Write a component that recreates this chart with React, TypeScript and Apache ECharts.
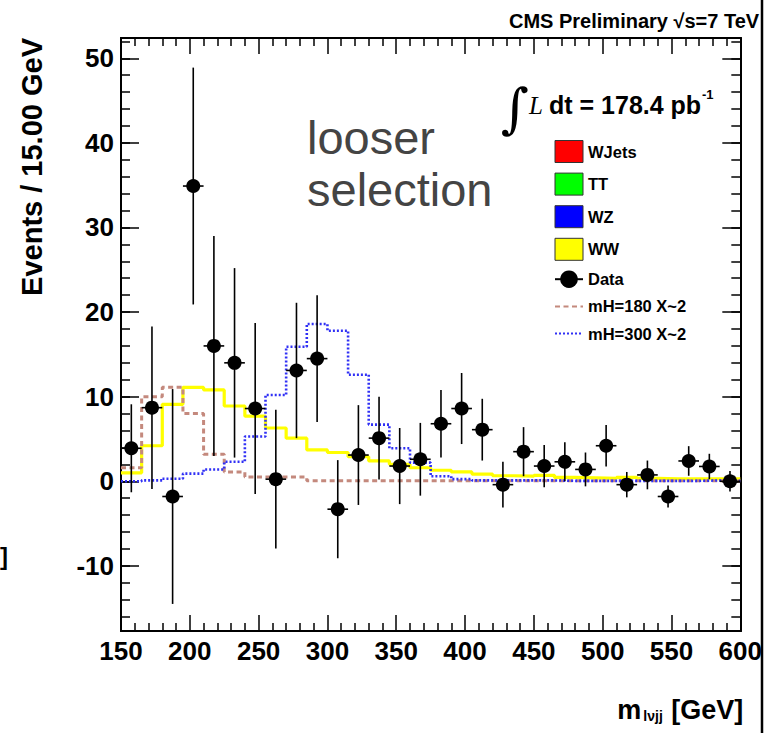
import React, { useEffect, useRef } from "react";
import * as echarts from "echarts";

const FF = "'Liberation Sans', Arial, Helvetica, sans-serif";

// Bin edges (15 GeV bins) and bin centres of m_lvjj
const binEdges = [150, 165, 180, 195, 210, 225, 240, 255, 270, 285, 300, 315, 330, 345, 360, 375, 390, 405, 420, 435, 450, 465, 480, 495, 510, 525, 540, 555, 570, 585, 600];
const binCenters = [157.5, 172.5, 187.5, 202.5, 217.5, 232.5, 247.5, 262.5, 277.5, 292.5, 307.5, 322.5, 337.5, 352.5, 367.5, 382.5, 397.5, 412.5, 427.5, 442.5, 457.5, 472.5, 487.5, 502.5, 517.5, 532.5, 547.5, 562.5, 577.5, 592.5];

// Data points and their errors
const dataValues = [3.9, 8.7, -1.8, 34.9, 16.0, 14.0, 8.6, 0.25, 13.1, 14.5, -3.3, 3.1, 5.1, 1.8, 2.6, 6.8, 8.6, 6.1, -0.4, 3.5, 1.8, 2.3, 1.4, 4.2, -0.4, 0.75, -1.8, 2.4, 1.75, 0.0];
const dataErrors = [5.2, 9.6, 12.7, 14.0, 13.0, 11.2, 10.1, 8.2, 8.0, 7.5, 5.8, 5.9, 4.9, 4.5, 4.3, 4.0, 4.2, 3.65, 2.7, 2.9, 2.5, 2.3, 2.0, 2.45, 1.5, 1.7, 1.3, 1.75, 1.5, 1.2];

// Histograms (per bin)
const wwValues = [1.0, 4.2, 9.1, 11.1, 10.8, 8.9, 7.7, 6.3, 5.1, 3.7, 3.4, 2.9, 2.4, 2.0, 1.6, 1.3, 1.1, 0.85, 0.65, 0.6, 0.7, 0.45, 0.4, 0.35, 0.45, 0.35, 0.3, 0.3, 0.3, 0.3];
const mh180Values = [1.6, 10.0, 11.1, 8.0, 3.2, 1.1, 0.5, 0.5, 0.5, 0.05, 0.05, 0.05, 0.05, 0.05, 0.05, 0.05, 0.05, 0.05, 0.05, 0.05, 0.05, 0.05, 0.05, 0.05, 0.05, 0.05, 0.05, 0.05, 0.05, 0.05];
const mh300Values = [0.0, 0.1, 0.3, 0.9, 1.4, 2.3, 5.3, 10.2, 15.9, 18.6, 17.8, 12.6, 6.7, 3.9, 2.2, 0.6, 0.25, 0.1, 0.1, 0.1, 0.1, 0.05, 0.05, 0.05, 0.05, 0.05, 0.05, 0.05, 0.1, 0.05];

// Axis ticks
const yMajorTicks = [-10, 0, 10, 20, 30, 40, 50];
const yMinorTicks = [-16, -14, -12, -10, -8, -6, -4, -2, 0, 2, 4, 6, 8, 10, 12, 14, 16, 18, 20, 22, 24, 26, 28, 30, 32, 34, 36, 38, 40, 42, 44, 46, 48, 50, 52];

const Y_MIN = -17.7;
const Y_MAX = 52.4;

const legendNames = ["WJets", "TT", "WZ", "WW", "Data", "mH=180 X~2", "mH=300 X~2"];

function stepData(vals: number[]) {
  return binEdges.map((e, i) => [e, vals[Math.min(i, vals.length - 1)]]);
}

export default function App() {
  const ref = useRef<HTMLDivElement>(null);
  useEffect(() => {
    if (!ref.current) return;
    const chart = echarts.init(ref.current, undefined, { renderer: "svg" });
    const axisLine = { show: true, onZero: false, lineStyle: { color: "#000", width: 2 } };
    const tickStyle = { color: "#000", width: 1.5 };
    const xAxisBase = {
      type: "value",
      min: 150,
      max: 600,
      interval: 50,
      axisLine,
      axisTick: { show: true, inside: true, length: 16, lineStyle: tickStyle },
      minorTick: { show: true, splitNumber: 5, length: 8, lineStyle: tickStyle },
      splitLine: { show: false },
      minorSplitLine: { show: false },
    };
    const yAxisBase = (position: string, ticks: number[], len: number, labels: boolean) => ({
      type: "value",
      position,
      min: Y_MIN,
      max: Y_MAX,
      axisLine,
      axisTick: { show: true, inside: true, length: len, lineStyle: tickStyle, customValues: ticks },
      axisLabel: labels
        ? { show: true, customValues: yMajorTicks, margin: 7, fontSize: 26, fontWeight: "bold", color: "#000", fontFamily: FF }
        : { show: false },
      splitLine: { show: false },
    });
    const yMain: any = yAxisBase("left", yMajorTicks, 18, true);
    yMain.name = "Events / 15.00 GeV";
    yMain.nameLocation = "end";
    yMain.nameRotate = 90;
    yMain.nameGap = 0;
    yMain.nameTextStyle = {
      fontSize: 29,
      fontWeight: "bold",
      color: "#000",
      fontFamily: FF,
      align: "right",
      verticalAlign: "bottom",
      padding: [0, 0, 75, 0],
    };

    const option: any = {
      animation: false,
      textStyle: { fontFamily: FF },
      grid: { left: 121, right: 23, top: 38, bottom: 102, containLabel: false },
      legend: {
        orient: "vertical",
        left: 554,
        top: 140,
        padding: 0,
        itemWidth: 28,
        itemHeight: 22,
        itemGap: 9.6,
        selectedMode: false,
        textStyle: { fontSize: 16.5, fontWeight: "bold", color: "#000", fontFamily: FF },
        data: [
          { name: legendNames[0], icon: "rect", itemStyle: { color: "#ff0000", borderColor: "#333", borderWidth: 1 } },
          { name: legendNames[1], icon: "rect", itemStyle: { color: "#00ff00", borderColor: "#333", borderWidth: 1 } },
          { name: legendNames[2], icon: "rect", itemStyle: { color: "#0000ff", borderColor: "#333", borderWidth: 1 } },
          { name: legendNames[3], icon: "rect", itemStyle: { color: "#ffff00", borderColor: "#333", borderWidth: 1 } },
          { name: legendNames[4], lineStyle: { opacity: 1, width: 2, color: "#000" } },
          { name: legendNames[5], itemStyle: { opacity: 0 } },
          { name: legendNames[6], itemStyle: { opacity: 0 } },
        ],
      },
      xAxis: [
        {
          ...xAxisBase,
          position: "bottom",
          axisLabel: { show: true, margin: 7, fontSize: 26, fontWeight: "bold", color: "#000", fontFamily: FF, showMinLabel: true, showMaxLabel: true },
          name: "{m|m}{s|lνjj}{m| [GeV]}",
          nameLocation: "end",
          nameGap: 3,
          nameTextStyle: {
            align: "right",
            verticalAlign: "top",
            padding: [62, 0, 0, 0],
            rich: {
              m: { fontSize: 27, fontWeight: "bold", color: "#000", fontFamily: FF, lineHeight: 30, verticalAlign: "bottom" },
              s: { fontSize: 14, fontWeight: "bold", color: "#000", fontFamily: FF, lineHeight: 8, verticalAlign: "bottom", padding: [0, 1, 0, 2] },
            },
          },
        },
        { ...xAxisBase, position: "top", axisLabel: { show: false } },
      ],
      yAxis: [
        yMain,
        yAxisBase("left", yMinorTicks, 9, false),
        yAxisBase("right", yMajorTicks, 18, false),
        yAxisBase("right", yMinorTicks, 9, false),
      ],
      series: [
        { name: legendNames[0], type: "line", data: [], itemStyle: { color: "#ff0000" } },
        { name: legendNames[1], type: "line", data: [], itemStyle: { color: "#00ff00" } },
        { name: legendNames[2], type: "line", data: [], itemStyle: { color: "#0000ff" } },
        {
          name: legendNames[3],
          type: "line",
          step: "end",
          symbol: "none",
          data: stepData(wwValues),
          itemStyle: { color: "#ffff00" },
          lineStyle: { color: "#ffff00", width: 3.2 },
          z: 2,
        },
        {
          name: legendNames[5],
          type: "line",
          step: "end",
          symbol: "none",
          data: stepData(mh180Values),
          itemStyle: { color: "#c4897d" },
          lineStyle: { color: "#c4897d", width: 3, type: [5, 3.5] },
          z: 2,
        },
        {
          name: legendNames[6],
          type: "line",
          step: "end",
          symbol: "none",
          data: stepData(mh300Values),
          itemStyle: { color: "#3030f5" },
          lineStyle: { color: "#3030f5", width: 2.6, type: [2, 2] },
          z: 2,
        },
        {
          name: "Data errors",
          type: "custom",
          data: binCenters.map((x, i) => [x, dataValues[i], dataErrors[i]]),
          encode: { x: 0, y: 1 },
          z: 3,
          renderItem: (params: any, api: any) => {
            const x = api.value(0);
            const y = api.value(1);
            const e = api.value(2);
            const p = api.coord([x, y]);
            const top = api.coord([x, y + e]);
            const bot = api.coord([x, y - e]);
            const l = api.coord([x - 7.5, y]);
            const r = api.coord([x + 7.5, y]);
            return {
              type: "group",
              children: [
                { type: "line", shape: { x1: p[0], y1: top[1], x2: p[0], y2: bot[1] }, style: { stroke: "#000", lineWidth: 1.6 } },
                { type: "line", shape: { x1: l[0], y1: p[1], x2: r[0], y2: p[1] }, style: { stroke: "#000", lineWidth: 1.6 } },
              ],
            };
          },
        },
        {
          name: legendNames[4],
          type: "line",
          data: binCenters.map((x, i) => [x, dataValues[i]]),
          symbol: "circle",
          symbolSize: 14,
          showSymbol: true,
          showAllSymbol: true,
          itemStyle: { color: "#000" },
          lineStyle: { color: "#000", width: 2, opacity: 0 },
          z: 4,
        },
      ],
      graphic: [
        { type: "text", x: 509, y: 21, style: { text: "CMS Preliminary √s=7 TeV", fontSize: 20, fontWeight: "bold", fontFamily: FF, fill: "#000", align: "left", verticalAlign: "middle" } },
        { type: "text", x: 501, y: 108, style: { text: "∫", fontSize: 54, fontFamily: "'DejaVu Serif', serif", fill: "#000", align: "left", verticalAlign: "middle" } },
        { type: "text", x: 529, y: 105, style: { text: "L", fontSize: 25, fontStyle: "italic", fontFamily: "'Liberation Serif', 'Times New Roman', serif", fill: "#000", align: "left", verticalAlign: "middle" } },
        { type: "text", x: 549, y: 105, style: { text: "dt = 178.4 pb", fontSize: 25, fontWeight: "bold", fontFamily: FF, fill: "#000", align: "left", verticalAlign: "middle" } },
        { type: "text", x: 702, y: 94, style: { text: "-1", fontSize: 13, fontWeight: "bold", fontFamily: FF, fill: "#000", align: "left", verticalAlign: "middle" } },
        { type: "text", x: 307, y: 137, style: { text: "looser", fontSize: 47, fontFamily: FF, fill: "#444", align: "left", verticalAlign: "middle" } },
        { type: "text", x: 307, y: 189, style: { text: "selection", fontSize: 47, fontFamily: FF, fill: "#444", align: "left", verticalAlign: "middle" } },
        { type: "text", x: 0, y: 556, style: { text: "]", fontSize: 24, fontWeight: "bold", fontFamily: FF, fill: "#000", align: "left", verticalAlign: "middle" } },
        { type: "line", shape: { x1: 762, y1: 0, x2: 762, y2: 733 }, style: { stroke: "#000", lineWidth: 2.5 }, z: 100 },
      ],
    };
    chart.setOption(option);
    return () => chart.dispose();
  }, []);
  return <div ref={ref} style={{ position: "absolute", left: 0, top: 0, width: 765, height: 733, background: "#fff" }} />;
}
